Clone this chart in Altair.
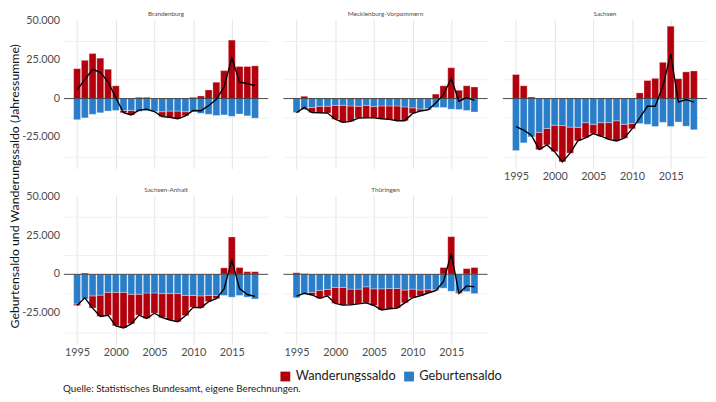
import altair as alt
import pandas as pd

years = list(range(1995, 2019))
states = ["Brandenburg", "Mecklenburg-Vorpommern", "Sachsen", "Sachsen-Anhalt", "Thüringen"]

wanderung_bb = [19400, 24800, 29200, 26200, 19000, 8300, -1500, -2900, 800, 800, -200, -3200,
                -4000, -5000, -2700, 800, 1700, 5600, 10600, 18100, 37900, 20800, 20800, 21200]
geburten_bb = [-13700, -12500, -10200, -9200, -8100, -7700, -7700, -7700, -8300, -7700, -8300, -8500,
               -8100, -8100, -8500, -8500, -9600, -10200, -11000, -10600, -11500, -10000, -11200, -12700]

wanderung_mv = [-200, 1500, -3300, -4200, -4400, -9000, -11000, -10000, -7700, -8100, -7300, -8300,
                -8700, -9600, -9000, -3600, -1400, -800, 2900, 8300, 20000, 5400, 8300, 7500]
geburten_mv = [-9000, -7200, -5800, -5000, -5000, -4400, -4400, -4800, -5000, -4400, -5200, -4800,
               -4800, -4800, -5400, -6000, -6700, -6500, -5800, -5800, -6900, -7100, -7700, -8700]

wanderung_sn = [15600, 8300, 1000, -11200, -10600, -17100, -23500, -16900, -8700, -9800, -6000, -8800,
                -10800, -13100, -9000, -3400, 3700, 11700, 13100, 23500, 46900, 12900, 17300, 17900]
geburten_sn = [-33700, -28700, -24800, -21900, -19400, -17300, -17500, -18500, -18700, -15600, -16700, -15600,
               -15600, -14400, -16700, -16200, -16200, -16700, -18100, -15400, -18100, -15200, -17900, -20200]

wanderung_st = [-1000, 800, -7900, -13800, -14800, -21700, -23100, -19200, -13500, -16500, -13100, -15600,
                -17100, -18300, -13100, -7700, -7700, -4000, -2100, 4200, 24200, 4400, 1700, 1700]
geburten_st = [-19200, -16000, -14000, -13500, -11700, -11700, -11700, -12900, -12900, -12100, -12100, -12500,
               -12500, -12500, -13700, -13700, -14000, -13700, -13700, -13700, -14800, -13700, -14800, -16000]

wanderung_th = [1000, 400, -1700, -5200, -4200, -10400, -11500, -10200, -9600, -10400, -10800, -13700,
                -13100, -12700, -8300, -5600, -3700, -2100, -600, 4400, 24400, -800, 3700, 4400]
geburten_th = [-15200, -12700, -11700, -10400, -9800, -8500, -8500, -9600, -9600, -8100, -9400, -9400,
               -9200, -9200, -10200, -9600, -10200, -10000, -10000, -9000, -11000, -11500, -11200, -12500]

y_tick_values = [50000, 25000, 0, -25000]
y_tick_labels = ["50.000", "25.000", "0", "-25.000"]

series = ["Wanderungssaldo", "Geburtensaldo"]
colors = ["#B2000C", "#2A7EC9"]
y_title = "Geburtensaldo und Wanderungssaldo (Jahressumme)"
caption = "Quelle: Statistisches Bundesamt, eigene Berechnungen."

wander = [wanderung_bb, wanderung_mv, wanderung_sn, wanderung_st, wanderung_th]
geburt = [geburten_bb, geburten_mv, geburten_sn, geburten_st, geburten_th]

records = []
for s, wl, gl in zip(states, wander, geburt):
    for yr, w, g in zip(years, wl, gl):
        records.append({"state": s, "year": yr, "Wanderungssaldo": w, "Geburtensaldo": g})
df = pd.DataFrame(records)
ticks_df = pd.DataFrame({"v": y_tick_values, "lab": y_tick_labels})

W = 208
H = 152
FONT = "Lato"

x_vals = [1995 + 2.5 * i for i in range(10)]
y_vals = [-37500, -25000, -12500, 0, 12500, 25000, 37500, 50000]
grid_color = {"condition": {"test": "datum.value % 5 == 0", "value": "#e4e4e4"}, "value": "#f0f0f0"}
grid_color_y = {"condition": {"test": "datum.value % 25000 == 0", "value": "#e4e4e4"}, "value": "#f0f0f0"}

legend = alt.Legend(orient="none", legendX=275, legendY=357, direction="horizontal", title=None,
                    symbolType="square", symbolSize=100, symbolStrokeWidth=0, labelFontSize=13,
                    labelColor="#1a1a1a", columnPadding=6, labelOffset=4, labelFont=FONT)


def panel(state, show_y, show_x):
    xscale = alt.Scale(domain=[1993.3, 2019.7], nice=False, zero=False)
    yscale = alt.Scale(domain=[-45400, 51300], nice=False, zero=False)
    xaxis = alt.Axis(values=x_vals, labels=show_x, ticks=False, domain=False, title=None,
                     labelExpr="datum.value % 5 == 0 ? toString(datum.value) : ''",
                     labelFontSize=11, labelColor="#4d4d4d", labelPadding=2, labelFont=FONT,
                     grid=True, gridColor=grid_color, labelFlush=False, labelOverlap=False)
    yaxis = alt.Axis(values=y_vals, labels=False, ticks=False, domain=False, title=None,
                     grid=True, gridColor=grid_color_y)

    base = alt.Chart(df).transform_filter(alt.datum.state == state)
    bars = base.transform_fold(series, as_=["serie", "value"]).transform_calculate(
        lo="datum.serie == 'Geburtensaldo' ? 0 : (datum.value >= 0 ? 0 : datum.Geburtensaldo)",
        hi="datum.serie == 'Geburtensaldo' ? datum.value : (datum.value >= 0 ? datum.value : datum.Geburtensaldo + datum.value)",
        x1="datum.year - 0.45",
        x2="datum.year + 0.45",
    ).mark_bar(stroke="white", strokeWidth=0.6, strokeOpacity=0.55).encode(
        x=alt.X("x1:Q", scale=xscale, axis=xaxis),
        x2="x2:Q",
        y=alt.Y("lo:Q", scale=yscale, axis=yaxis),
        y2="hi:Q",
        color=alt.Color("serie:N", scale=alt.Scale(domain=series, range=colors), legend=legend),
    )
    zero = alt.Chart(pd.DataFrame({"z": [0]})).mark_rule(color="#333333", strokeWidth=0.9).encode(
        y=alt.Y("z:Q", title=None)
    )
    line = base.transform_calculate(total="datum.Wanderungssaldo + datum.Geburtensaldo").mark_line(
        color="black", strokeWidth=1.4
    ).encode(x=alt.X("year:Q", title=None), y=alt.Y("total:Q", title=None))
    head = alt.Chart(pd.DataFrame({"t": [state]})).mark_text(
        align="center", baseline="middle", fontSize=6.5, color="#4d4d4d", font=FONT
    ).encode(x=alt.value(W / 2), y=alt.value(-5), text="t:N")
    layers = [bars, zero, line, head]
    if show_y:
        ylab = alt.Chart(ticks_df).mark_text(
            align="right", baseline="middle", fontSize=11, color="#4d4d4d", font=FONT
        ).encode(x=alt.value(-4), y=alt.Y("v:Q", title=None), text="lab:N")
        layers.append(ylab)
    return alt.layer(*layers).properties(width=W, height=H)


ytitle_chart = alt.Chart(pd.DataFrame({"t": [y_title]})).mark_text(
    angle=270, align="center", baseline="middle", fontSize=12.5, color="#111111", font=FONT
).encode(x=alt.value(6), y=alt.value(170), text="t:N").properties(width=12, height=340)

cap_chart = alt.Chart(pd.DataFrame({"t": [caption]})).mark_text(
    align="left", baseline="middle", fontSize=10, color="#1a1a1a", font=FONT
).encode(x=alt.value(-1), y=alt.value(27), text="t:N").properties(width=1, height=28)

p1 = panel(states[0], True, False)
p2 = panel(states[1], False, False)
p3 = panel(states[2], False, True)
p4 = panel(states[3], True, True)
p5 = panel(states[4], False, True)

row1 = alt.hconcat(p1, p2, p3, spacing=13.5)
row2 = alt.hconcat(p4, p5, spacing=13.5)
grid = alt.vconcat(row1, row2, cap_chart, spacing=6)
chart = alt.hconcat(ytitle_chart, grid, spacing=0).properties(padding=0).configure(
    font=FONT
).configure_view(strokeWidth=0)

chart.save("out.html", embed_options={"renderer": "svg", "actions": False})
